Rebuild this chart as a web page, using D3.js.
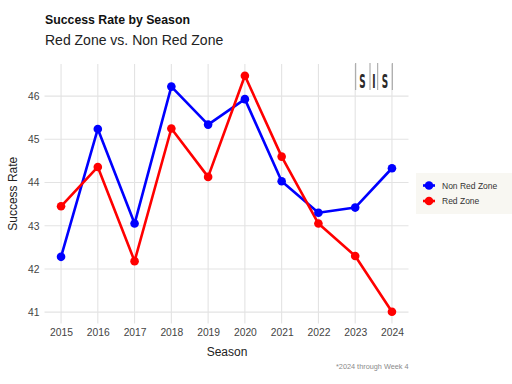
<!DOCTYPE html>
<html>
<head>
<meta charset="utf-8">
<script src="https://cdn.jsdelivr.net/npm/d3@7"></script>
<style>
  html, body { margin: 0; padding: 0; background: #fff; }
  svg { display: block; font-family: "Liberation Sans", Arial, sans-serif; }
</style>
</head>
<body>
<svg id="chart" width="512" height="384"></svg>
<script>
const seasons = [2015, 2016, 2017, 2018, 2019, 2020, 2021, 2022, 2023, 2024];
const nonRedZone = [42.28, 45.24, 43.05, 46.22, 45.34, 45.93, 44.03, 43.30, 43.42, 44.33];
const redZone = [43.45, 44.36, 42.18, 45.25, 44.13, 46.47, 44.60, 43.05, 42.30, 41.01];
const yTicks = [41, 42, 43, 44, 45, 46];
const seriesNames = ["Non Red Zone", "Red Zone"];
const seriesColors = ["#0000ff", "#ff0000"];

const FONT = "Liberation Sans, Arial, sans-serif";
const svg = d3.select("#chart");
const panel = { left: 44.5, right: 408.5, top: 64, bottom: 323.5 };

const yMin = 41.01 - 0.05 * (46.47 - 41.01), yMax = 46.47 + 0.05 * (46.47 - 41.01);
const x = d3.scaleLinear().domain([2015 - 0.45, 2024 + 0.45]).range([panel.left, panel.right]);
const y = d3.scaleLinear().domain([yMin, yMax]).range([panel.bottom, panel.top]);

// grid
const grid = svg.append("g");
grid.selectAll("line.h").data(yTicks).join("line")
  .attr("x1", panel.left).attr("x2", panel.right)
  .attr("y1", d => y(d)).attr("y2", d => y(d))
  .attr("stroke", "#e3e3e3").attr("stroke-width", 1.1);
grid.selectAll("line.v").data(seasons).join("line")
  .attr("y1", panel.top).attr("y2", panel.bottom)
  .attr("x1", d => x(d)).attr("x2", d => x(d))
  .attr("stroke", "#e3e3e3").attr("stroke-width", 1.1);

// axes (text only)
const yAxis = svg.append("g").attr("transform", `translate(${panel.left - 2},0)`)
  .call(d3.axisLeft(y).tickValues(yTicks).tickSize(0).tickPadding(3).tickFormat(d3.format("d")));
yAxis.select(".domain").remove();
yAxis.selectAll("text").attr("fill", "#444").style("font-size", "10.3px").style("font-family", FONT);

const xAxis = svg.append("g").attr("transform", `translate(0,${panel.bottom + 2})`)
  .call(d3.axisBottom(x).tickValues(seasons).tickSize(0).tickPadding(3).tickFormat(d3.format("d")));
xAxis.select(".domain").remove();
xAxis.selectAll("text").attr("fill", "#444").style("font-size", "10.3px").style("font-family", FONT);

// series
const seriesData = [nonRedZone, redZone];
const line = d3.line().x((d, i) => x(seasons[i])).y(d => y(d));
seriesData.forEach((vals, k) => {
  svg.append("path").datum(vals).attr("d", line)
    .attr("fill", "none").attr("stroke", seriesColors[k]).attr("stroke-width", 2.6)
    .attr("stroke-linejoin", "round");
});
seriesData.forEach((vals, k) => {
  svg.append("g").selectAll("circle").data(vals).join("circle")
    .attr("cx", (d, i) => x(seasons[i])).attr("cy", d => y(d)).attr("r", 4.3)
    .attr("fill", seriesColors[k]);
});

// titles
svg.append("text").attr("x", 45).attr("y", 24).text("Success Rate by Season")
  .style("font-size", "12.3px").style("font-weight", "bold").attr("fill", "#111");
svg.append("text").attr("x", 45).attr("y", 45).text("Red Zone vs. Non Red Zone")
  .style("font-size", "14px").attr("fill", "#222");

// axis titles
svg.append("text").attr("transform", `translate(17,${(panel.top + panel.bottom) / 2}) rotate(-90)`)
  .attr("text-anchor", "middle").text("Success Rate").style("font-size", "12px").attr("fill", "#222");
svg.append("text").attr("x", (panel.left + panel.right) / 2 + 0.5).attr("y", 356)
  .attr("text-anchor", "middle").text("Season").style("font-size", "12px").attr("fill", "#222");

// caption
svg.append("text").attr("x", 408.5).attr("y", 369).attr("text-anchor", "end")
  .text("*2024 through Week 4").style("font-size", "7.3px").attr("fill", "#8a8a8a");

// logo
const logo = svg.append("g");
[355.7, 370, 377.7, 392.3].forEach(lx => {
  logo.append("line").attr("x1", lx).attr("x2", lx).attr("y1", 63).attr("y2", 90)
    .attr("stroke", "#a0a0a0").attr("stroke-width", 1);
});
[["S", 362.5], ["I", 374], ["S", 385]].forEach(([t, lx]) => {
  logo.append("text").attr("transform", `translate(${lx},87.5) scale(0.52,1)`)
    .attr("text-anchor", "middle").text(t)
    .style("font-size", "19px").style("font-weight", "bold")
    .style("font-family", "DejaVu Sans Condensed, DejaVu Sans, sans-serif").attr("fill", "#2a2a2a");
});

// legend
const lg = svg.append("g");
lg.append("rect").attr("x", 416).attr("y", 173).attr("width", 96).attr("height", 41).attr("fill", "#f8f7f2");
seriesNames.forEach((name, i) => {
  const cy = 185.5 + i * 15.5;
  lg.append("line").attr("x1", 423).attr("x2", 435).attr("y1", cy).attr("y2", cy)
    .attr("stroke", seriesColors[i]).attr("stroke-width", 2.6);
  lg.append("circle").attr("cx", 429).attr("cy", cy).attr("r", 4.3).attr("fill", seriesColors[i]);
  lg.append("text").attr("x", 442).attr("y", cy + 3).text(name)
    .style("font-size", "8.5px").attr("fill", "#333");
});
</script>
</body>
</html>
